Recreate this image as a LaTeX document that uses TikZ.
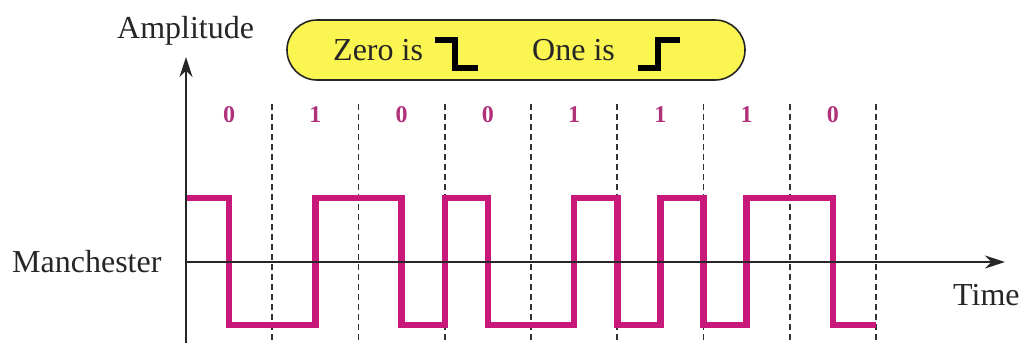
\documentclass[tikz,border=0pt]{standalone}
\usepackage{fontspec}
\setmainfont{Liberation Serif}
\usetikzlibrary{arrows.meta}
\definecolor{wavec}{RGB}{200,25,122}
\definecolor{bitc}{RGB}{176,48,122}
\definecolor{boxy}{RGB}{250,245,80}
\tikzset{
  lbl/.style={font=\fontsize{32}{36}\selectfont, text=black!85, inner sep=0pt},
  bitlbl/.style={font=\fontsize{24}{28}\selectfont\bfseries, text=bitc, inner sep=0pt},
  axisline/.style={line width=2pt, draw=black!85},
  axisarrow/.style={axisline, -{Stealth[length=20pt,width=13pt]}},
  gridline/.style={line width=1.6pt, draw=black!80, dash pattern=on 6pt off 4pt},
  wave/.style={line width=6.5pt, draw=wavec, line join=miter, line cap=butt},
  legendbox/.style={draw=black!85, line width=1.6pt, fill=boxy, rounded corners=30pt,
    minimum width=458pt, minimum height=60pt, inner sep=0pt},
  edge/.style={line width=6pt, draw=black, line join=miter}
}
\begin{document}
\begin{tikzpicture}[x=1pt,y=-1pt]
\useasboundingbox (0,0) rectangle (1025,343);
\def\p{86.25}
\def\H{198}
\def\L{325}
% legend box
\node[legendbox] (legend) at (516,50) {};
\node[lbl, anchor=base west] (zero) at (333,60) {Zero is};
\node[lbl, anchor=base west] (one) at (532,60) {One is};
\coordinate (z1) at (435,40);
\coordinate (z2) at (455,40);
\coordinate (z3) at (455,68);
\coordinate (z4) at (478,68);
\draw[edge] (z1) -- (z2) -- (z3) -- (z4);
\coordinate (o1) at (638,68);
\coordinate (o2) at (658,68);
\coordinate (o3) at (658,40);
\coordinate (o4) at (680,40);
\draw[edge] (o1) -- (o2) -- (o3) -- (o4);
% labels
\node[lbl, anchor=base west] (amp) at (117,38) {Amplitude};
\node[lbl, anchor=base west] (man) at (12,272) {Manchester};
\node[lbl, anchor=base west] (time) at (953,305) {Time};
% bit labels
\foreach \b [count=\i from 0] in {0,1,0,0,1,1,1,0} {
  \node[bitlbl] (bit\i) at ({186+(\i+0.5)*\p},115) {\b};
}
% dashed bit boundaries
\foreach \k in {1,...,8} {
  \coordinate (gt\k) at ({186+\k*\p},104);
  \coordinate (gb\k) at ({186+\k*\p},343);
  \draw[gridline] (gt\k) -- (gb\k);
}
% waveform
\draw[wave] (186,\H) -- ({186+0.5*\p},\H) -- ({186+0.5*\p},\L) -- ({186+1.5*\p},\L)
  -- ({186+1.5*\p},\H) -- ({186+2.5*\p},\H) -- ({186+2.5*\p},\L) -- ({186+3*\p},\L)
  -- ({186+3*\p},\H) -- ({186+3.5*\p},\H) -- ({186+3.5*\p},\L) -- ({186+4.5*\p},\L)
  -- ({186+4.5*\p},\H) -- ({186+5*\p},\H) -- ({186+5*\p},\L) -- ({186+5.5*\p},\L)
  -- ({186+5.5*\p},\H) -- ({186+6*\p},\H) -- ({186+6*\p},\L) -- ({186+6.5*\p},\L)
  -- ({186+6.5*\p},\H) -- ({186+7.5*\p},\H) -- ({186+7.5*\p},\L) -- ({186+8*\p},\L);
% axes
\coordinate (ybot) at (186,343);
\coordinate (ytop) at (186,57);
\coordinate (orig) at (186,262);
\coordinate (xend) at (1005,262);
\draw[axisarrow] (ybot) -- (ytop);
\draw[axisarrow] (orig) -- (xend);
\end{tikzpicture}
\end{document}
